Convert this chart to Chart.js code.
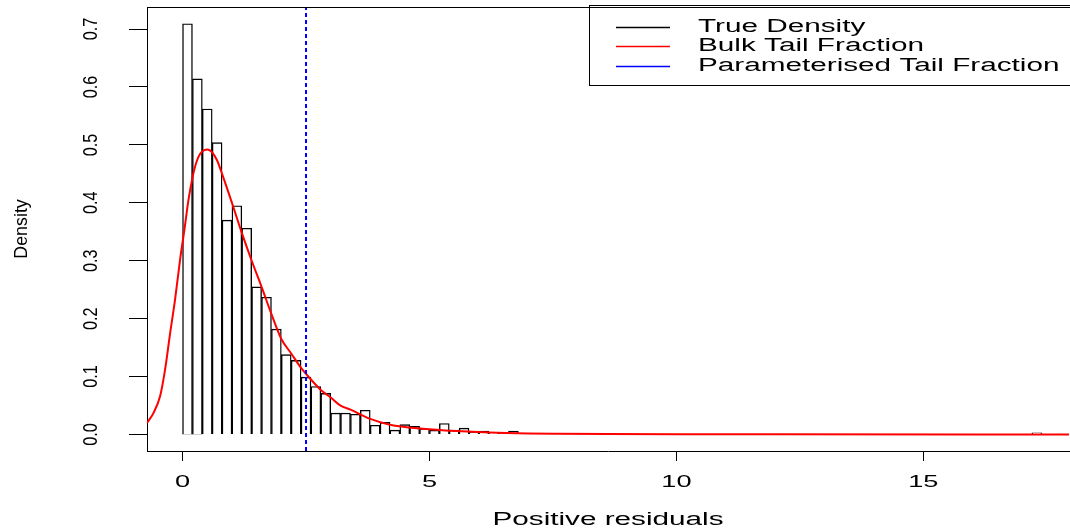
<!DOCTYPE html>
<html>
<head>
<meta charset="utf-8">
<script src="https://cdn.jsdelivr.net/npm/chart.js@4"></script>
<style>
  html, body { margin: 0; padding: 0; background: #fff; overflow: hidden; }
</style>
</head>
<body>
<canvas id="histChart" width="1070" height="530"></canvas>
<script>
// histogram bins (mid points, width 0.2) and density heights
var binMids = [0.1, 0.3, 0.5, 0.7, 0.9, 1.1, 1.3, 1.5, 1.7, 1.9,
               2.1, 2.3, 2.5, 2.7, 2.9, 3.1, 3.3, 3.5, 3.7, 3.9,
               4.1, 4.3, 4.5, 4.7, 4.9, 5.1, 5.3, 5.5, 5.7, 5.9,
               6.1, 6.3, 6.5, 6.7, 6.9, 7.1, 7.3, 7.5, 7.7, 7.9, 17.3];
var binDensity = [0.709, 0.614, 0.562, 0.504, 0.370, 0.395, 0.356, 0.255, 0.237, 0.182,
                  0.138, 0.128, 0.099, 0.083, 0.071, 0.037, 0.037, 0.035, 0.042, 0.016,
                  0.021, 0.0075, 0.017, 0.014, 0.010, 0.0075, 0.019, 0.0075, 0.011, 0.004,
                  0.006, 0.003, 0.002, 0.006, 0.002, 0.002, 0.001, 0.001, 0.002, 0.002, 0.003];

// fitted density curve
var curveX = [-0.72, -0.59, -0.455, -0.354, -0.25, -0.152, -0.05, 0.04, 0.12, 0.2,
              0.28, 0.36, 0.44, 0.51, 0.6, 0.7, 0.8, 1.0, 1.2, 1.4,
              1.6, 1.8, 2.0, 2.2, 2.4, 2.6, 2.8, 3.0, 3.2, 3.4,
              3.8, 4.2, 4.87, 5.55, 6.22, 7.0, 7.6, 8.6, 10, 12, 17.95];
var curveY = [0.020, 0.037, 0.066, 0.112, 0.176, 0.233, 0.302, 0.355, 0.405, 0.443,
              0.470, 0.485, 0.491, 0.492, 0.487, 0.473, 0.450, 0.400, 0.348, 0.300,
              0.255, 0.208, 0.165, 0.140, 0.115, 0.095, 0.077, 0.064, 0.050, 0.043,
              0.027, 0.017, 0.010, 0.006, 0.0035, 0.002, 0.0015, 0.001, 0.0006, 0.0004, 0.0002];

var cutoff = 2.5;
var xTicks = [0, 5, 10, 15];
var yTicks = [0.0, 0.1, 0.2, 0.3, 0.4, 0.5, 0.6, 0.7];
var xRange = [-0.72, 17.95];
var yRange = [-0.0284, 0.738];

var legendItems = ['True Density', 'Bulk Tail Fraction', 'Parameterised Tail Fraction'];
var legendColors = ['#000000', '#ff0000', '#0000ff'];

var FONT = '"Liberation Sans", Arial, sans-serif';

function drawText(ctx, s, x, y, size, sx, sy, rotate, align) {
    ctx.save();
    ctx.translate(x, y);
    if (rotate) ctx.rotate(-Math.PI / 2);
    ctx.scale(sx, sy);
    ctx.font = size + 'px ' + FONT;
    ctx.textAlign = align || 'center';
    ctx.textBaseline = 'middle';
    ctx.fillStyle = '#000';
    ctx.fillText(s, 0, 0);
    ctx.restore();
}

// R style labels, box and legend
var rDecor = {
    id: 'rDecor',
    afterDraw: function(chart) {
        var ctx = chart.ctx;
        var area = chart.chartArea;
        var xs = chart.scales.x, ys = chart.scales.y;

        // top edge of the box
        ctx.save();
        ctx.strokeStyle = '#000';
        ctx.lineWidth = 1;
        ctx.beginPath();
        ctx.moveTo(area.left, Math.round(area.top) + 0.5);
        ctx.lineTo(area.right + 2, Math.round(area.top) + 0.5);
        ctx.stroke();
        ctx.restore();

        xTicks.forEach(function(v) {
            drawText(ctx, String(v), xs.getPixelForValue(v), 482, 17, 1.6, 1, false);
        });
        yTicks.forEach(function(v) {
            drawText(ctx, v.toFixed(1), 92, ys.getPixelForValue(v), 18, 0.9, 1.1, true);
        });
        drawText(ctx, 'Positive residuals', (area.left + area.right) / 2, 520, 18, 1.65, 1, false);
        drawText(ctx, 'Density', 22, (area.top + area.bottom) / 2, 17, 1.05, 1.05, true);

        // legend
        ctx.save();
        ctx.strokeStyle = '#000';
        ctx.lineWidth = 1;
        ctx.strokeRect(589.5, 5.5, 600, 80);
        var rows = [27, 46, 66];
        legendItems.forEach(function(label, i) {
            ctx.strokeStyle = legendColors[i];
            ctx.lineWidth = 1.3;
            ctx.beginPath();
            ctx.moveTo(616, rows[i] + 0.5);
            ctx.lineTo(670, rows[i] + 0.5);
            ctx.stroke();
            drawText(ctx, label, 698, rows[i], 18, 1.65, 1, false, 'left');
        });
        ctx.restore();
    }
};

document.addEventListener("DOMContentLoaded", function() {
    var ctx = document.getElementById('histChart').getContext('2d');

    var bars = binMids.map(function(m, i) { return { x: m, y: binDensity[i] }; });
    var curve = curveX.map(function(x, i) { return { x: x, y: curveY[i] }; });
    var vline = [{ x: cutoff, y: yRange[0] }, { x: cutoff, y: yRange[1] }];

    new Chart(ctx, {
        type: 'bar',
        data: {
            datasets: [{
                type: 'bar',
                data: bars,
                backgroundColor: '#ffffff',
                borderColor: '#000000',
                borderWidth: 1.4,
                barPercentage: 1,
                categoryPercentage: 1,
                order: 3
            }, {
                type: 'line',
                data: curve,
                borderColor: '#ff0000',
                borderWidth: 2,
                pointRadius: 0,
                cubicInterpolationMode: 'monotone',
                order: 2
            }, {
                type: 'line',
                data: vline,
                borderColor: '#0000ff',
                borderWidth: 2,
                borderDash: [4, 3],
                pointRadius: 0,
                order: 1
            }]
        },
        options: {
            responsive: false,
            animation: false,
            devicePixelRatio: 1,
            layout: { padding: { top: 7, right: 1, left: 0, bottom: 0 } },
            plugins: {
                legend: { display: false },
                tooltip: { enabled: false }
            },
            scales: {
                x: {
                    type: 'linear',
                    offset: false,
                    min: xRange[0],
                    max: xRange[1],
                    afterBuildTicks: function(s) { s.ticks = xTicks.map(function(v) { return { value: v }; }); },
                    afterFit: function(s) { s.height = 79; },
                    ticks: { display: false },
                    grid: { offset: false, drawOnChartArea: false, drawTicks: true, tickLength: 10, color: '#000', lineWidth: 1 },
                    border: { display: true, color: '#000', width: 1 }
                },
                y: {
                    type: 'linear',
                    min: yRange[0],
                    max: yRange[1],
                    afterBuildTicks: function(s) { s.ticks = yTicks.map(function(v) { return { value: v }; }); },
                    afterFit: function(s) { s.width = 147; },
                    ticks: { display: false },
                    grid: { drawOnChartArea: false, drawTicks: true, tickLength: 18, color: '#000', lineWidth: 1 },
                    border: { display: true, color: '#000', width: 1 }
                }
            }
        },
        plugins: [rDecor]
    });
});
</script>
</body>
</html>
